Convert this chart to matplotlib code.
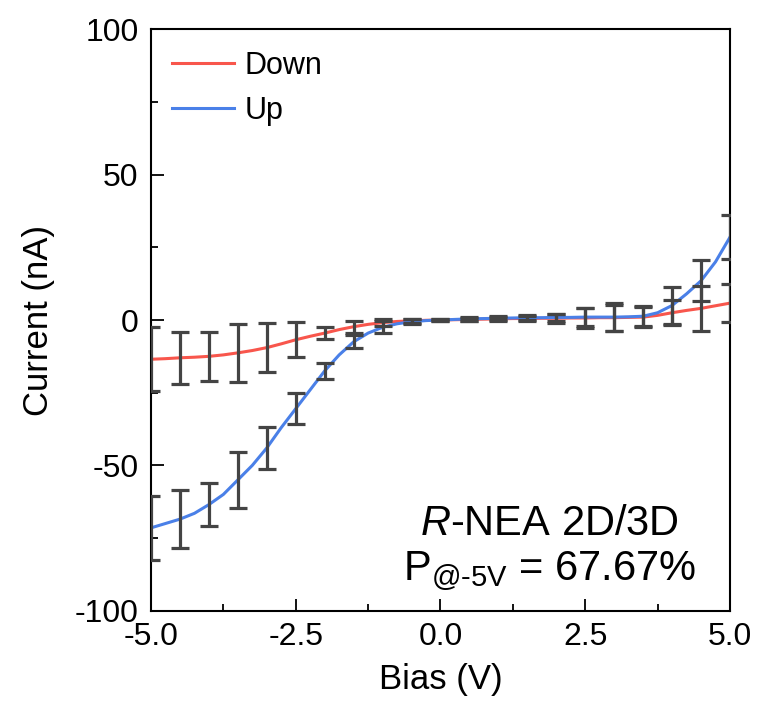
import numpy as np
import matplotlib.pyplot as plt
from matplotlib.ticker import MultipleLocator

plt.rcParams['font.family'] = ['Liberation Sans', 'DejaVu Sans']
plt.rcParams['mathtext.fontset'] = 'custom'
plt.rcParams['mathtext.rm'] = 'Liberation Sans'
plt.rcParams['mathtext.it'] = 'Liberation Sans:italic'
plt.rcParams['axes.unicode_minus'] = False

# Bias sweep (V), curve sampled every 0.25 V
bias = np.arange(-5.0, 5.01, 0.25)

current_down = [-13.5, -13.3, -13.0, -12.8, -12.5, -12.0, -11.3, -10.5, -9.5, -8.2,
                -6.8, -5.6, -4.5, -3.3, -2.3, -1.5, -0.9, -0.5, -0.3, -0.1,
                0.0, 0.1, 0.2, 0.3, 0.4, 0.5, 0.5, 0.6, 0.6, 0.7,
                0.7, 0.8, 0.8, 0.9, 1.0, 1.6, 2.5, 3.3, 4.0, 4.9, 5.8]
current_up = [-71.5, -70.0, -68.5, -66.5, -63.5, -60.0, -55.0, -50.0, -44.0, -37.0,
              -30.5, -24.0, -17.5, -12.0, -7.5, -4.5, -2.5, -1.3, -0.6, -0.2,
              0.0, 0.2, 0.4, 0.5, 0.6, 0.7, 0.8, 0.8, 0.9, 0.9,
              1.0, 1.0, 1.0, 1.1, 1.3, 2.5, 5.0, 9.0, 13.5, 20.0, 28.5]

# error bars every 0.5 V
err_down = [11, 9, 8.5, 10, 8.5, 6, 2.2, 2, 1.2, 0.6, 0.3,
            0.5, 0.6, 0.8, 1.5, 3.5, 4.5, 3.5, 4.3, 7.7, 6.5]
err_up = [11, 10, 7.5, 9.6, 7.2, 5.3, 2.8, 2.2, 2.0, 0.8, 0.3,
          0.6, 0.7, 0.8, 1.2, 3.0, 4.8, 3.5, 6.5, 7.0, 7.5]

RED = '#F8564C'
BLUE = '#4A80E8'
BAR = '#444444'

fig = plt.figure(figsize=(7.6, 7.2), dpi=100)
ax = fig.add_axes([0.1987, 0.1518, 0.7618, 0.8075])

ax.plot(bias, current_down, color=RED, lw=2.2, label='Down', zorder=2)
ax.plot(bias, current_up, color=BLUE, lw=2.2, label='Up', zorder=2)

ax.errorbar(bias[::2], np.array(current_down)[::2], yerr=err_down, fmt='none',
            ecolor=BAR, elinewidth=2.3, capsize=6.5, capthick=2.3, zorder=3)
ax.errorbar(bias[::2], np.array(current_up)[::2], yerr=err_up, fmt='none',
            ecolor=BAR, elinewidth=2.3, capsize=6.5, capthick=2.3, zorder=3)

ax.set_xlim(-5, 5)
ax.set_ylim(-100, 100)
ax.xaxis.set_major_locator(MultipleLocator(2.5))
ax.xaxis.set_minor_locator(MultipleLocator(1.25))
ax.yaxis.set_major_locator(MultipleLocator(50))
ax.yaxis.set_minor_locator(MultipleLocator(25))
ax.xaxis.set_major_formatter(plt.FormatStrFormatter('%.1f'))

ax.tick_params(which='both', direction='in', top=False, right=False, width=1.3, labelsize=23)
ax.tick_params(which='major', length=9)
ax.tick_params(which='minor', length=5)
ax.tick_params(axis='x', pad=8)
ax.tick_params(axis='y', pad=9)
for s in ax.spines.values():
    s.set_linewidth(1.5)

ax.set_xlabel('Bias (V)', fontsize=25, labelpad=8)
ax.set_ylabel('Current (nA)', fontsize=25, labelpad=14)

ax.legend(loc='upper left', frameon=False, fontsize=22, handlelength=2.0,
          handletextpad=0.35, labelspacing=0.5, bbox_to_anchor=(0.0, 1.0),
          borderaxespad=0.3)

ax.text(1.89, -74, r'$\mathit{R}$-NEA 2D/3D', fontsize=30, ha='center', va='baseline')
ax.text(1.89, -89.5, r'P$_{\mathrm{@\text{-}5V}}$ = 67.67%', fontsize=30, ha='center', va='baseline')

fig.savefig('out.png', dpi=100)
